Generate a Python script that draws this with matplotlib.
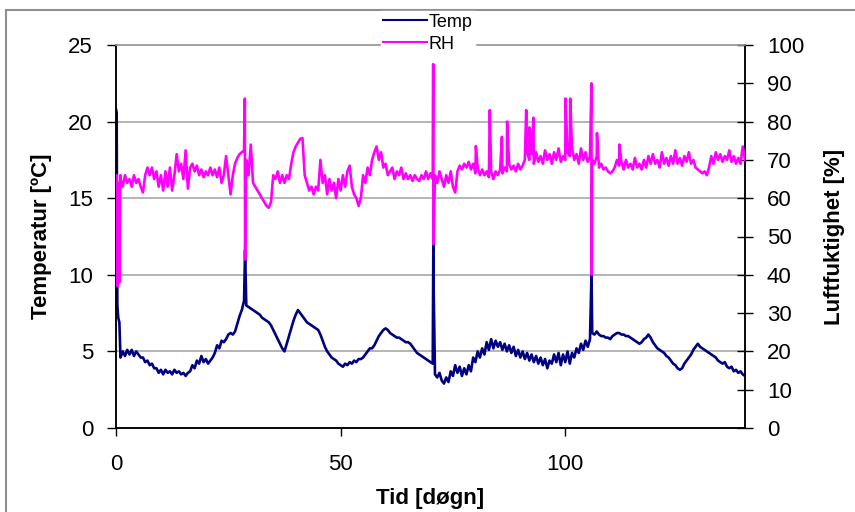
import numpy as np
import matplotlib
matplotlib.use("Agg")
import matplotlib.pyplot as plt
from matplotlib.lines import Line2D

plt.rcParams['font.family'] = ['Liberation Sans', 'DejaVu Sans']

# ---------------- data ----------------
# regular samples every half day from day 1.0 to day 140.0
base_days = np.arange(1.0, 140.01, 0.5)

temp_base = [
    4.6, 5.0, 4.7, 5.1, 4.8, 5.1, 4.7, 5.0, 4.8, 4.6, 4.6, 4.3, 4.4, 4.1, 4.2, 3.9, 3.9, 3.6, 3.8, 3.5,
    3.8, 3.6, 3.7, 3.5, 3.8, 3.6, 3.7, 3.5, 3.6, 3.4, 3.6, 3.7, 4.1, 3.9, 4.4, 4.2, 4.7, 4.3, 4.5, 4.2,
    4.4, 4.6, 4.9, 5.4, 5.2, 5.7, 5.6, 5.8, 6.1, 6.2, 6.1, 6.3, 6.8, 7.3, 7.7, 8.3, 8.0, 7.9, 7.8, 7.7,
    7.6, 7.5, 7.4, 7.2, 7.1, 7.0, 6.9, 6.7, 6.4, 6.1, 5.8, 5.5, 5.2, 5.0, 5.5, 6.0, 6.5, 7.0, 7.4, 7.7,
    7.5, 7.3, 7.1, 6.9, 6.8, 6.7, 6.6, 6.5, 6.4, 6.1, 5.7, 5.3, 5.0, 4.8, 4.6, 4.5, 4.4, 4.2, 4.1, 4.0,
    4.2, 4.1, 4.3, 4.2, 4.4, 4.3, 4.5, 4.5, 4.6, 4.8, 5.0, 5.2, 5.2, 5.4, 5.7, 6.0, 6.2, 6.4, 6.5, 6.4,
    6.2, 6.1, 6.0, 5.9, 5.9, 5.8, 5.7, 5.6, 5.6, 5.5, 5.3, 5.1, 4.9, 4.8, 4.7, 4.6, 4.5, 4.4, 4.3, 4.2,
    3.5, 3.3, 3.6, 3.1, 2.9, 3.3, 3.0, 3.7, 3.4, 4.1, 3.6, 4.0, 3.4, 3.9, 3.5, 4.1, 3.7, 4.6, 4.3, 5.0,
    4.6, 5.2, 4.8, 5.6, 5.1, 5.8, 5.2, 5.7, 5.3, 5.6, 5.1, 5.5, 5.0, 5.4, 4.9, 5.3, 4.7, 5.1, 4.6, 5.0,
    4.5, 4.9, 4.4, 4.8, 4.3, 4.7, 4.2, 4.6, 4.1, 4.5, 3.9, 4.4, 4.2, 4.8, 4.3, 4.9, 4.1, 4.8, 4.3, 5.0,
    4.2, 4.9, 4.6, 5.2, 4.9, 5.5, 5.1, 5.7, 5.3, 5.8, 6.2, 6.1, 6.3, 6.1, 6.0, 6.0, 5.9, 5.9, 5.8, 6.0,
    6.1, 6.2, 6.2, 6.1, 6.1, 6.0, 6.0, 5.9, 5.8, 5.7, 5.6, 5.5, 5.6, 5.8, 5.9, 6.1, 5.9, 5.6, 5.4, 5.2,
    5.1, 5.0, 4.9, 4.7, 4.6, 4.4, 4.2, 4.1, 3.9, 3.8, 3.9, 4.2, 4.4, 4.6, 4.8, 5.1, 5.3, 5.5, 5.3, 5.2,
    5.1, 5.0, 4.9, 4.8, 4.7, 4.6, 4.4, 4.3, 4.2, 4.3, 4.0, 3.9, 4.0, 3.7, 3.8, 3.6, 3.7, 3.5, 3.4,
]

rh_base = [
    65, 63, 66, 64, 65, 63, 66, 64, 65, 63, 61.5, 66, 68, 66, 68, 65, 67, 63, 66, 62,
    67, 63, 68, 62, 66, 71.5, 67, 69, 65, 72.5, 62.5, 68, 69, 67, 68.5, 66, 67.5, 65.5, 67, 66,
    68, 66, 67.5, 65.5, 68, 64, 66, 71, 66, 61, 66, 69, 70.5, 71.5, 72, 72.5, 70, 66, 74, 64,
    63, 62, 61, 60, 59, 58, 57.5, 59, 66, 65, 67, 64, 66, 64, 66, 65, 69, 72, 73.5, 74.5,
    75.5, 75.7, 66, 64, 62, 63, 61, 63, 62, 70, 64, 66, 61, 65, 62, 64, 60, 65, 62, 66,
    63, 67, 68.5, 63, 61, 60, 58, 60, 66, 64, 68, 66, 70, 72, 73.5, 70, 72, 68, 69, 66,
    67, 68, 65, 67, 66, 68, 65, 66.5, 65, 66, 64.5, 66, 65, 64.5, 66, 65, 67, 65, 66.5, 65,
    66, 64, 67, 65, 63, 66, 64, 67, 63, 61.5, 67, 68.5, 67.5, 69, 68, 69.5, 67.5, 69, 66.5, 68,
    66, 67.5, 66, 67, 65.5, 67, 65, 67, 66, 67.5, 66.5, 68, 67, 69, 67.5, 68.5, 67, 69, 67.5, 68.5,
    70, 72, 70, 71.5, 69, 72, 69.5, 71, 69, 72.5, 70, 71.5, 69, 72, 70, 73, 69.5, 71, 70, 72,
    71, 73, 70, 71.5, 69, 73, 70, 72, 69.5, 71, 70, 69, 71, 68, 69, 67.5, 68, 67, 66.5, 67,
    68, 70, 68.5, 69.5, 67.5, 70, 68, 69, 67.5, 70.5, 68, 69, 67.5, 70, 68, 71, 69, 71.5, 69, 70,
    68, 72, 69, 70.5, 68.5, 71, 69, 72.5, 69, 70.5, 68.5, 71, 69.5, 72, 69, 70, 68, 67.5, 67, 66.5,
    67, 66, 68, 71, 69, 72, 70, 71.5, 69.5, 71, 70, 72.5, 69.5, 71, 69, 70.5, 69, 73.5, 70,
]

# start-up transient and short spikes (single readings)
temp_extra_days = [0.0, 0.15, 0.3, 0.5, 0.75, 28.73, 70.63, 70.68, 105.83]
temp_extra_vals = [20.8, 20.6, 8.0, 7.2, 6.9, 11.6, 12.1, 9.5, 10.0]

rh_extra_days = [0.0, 0.15, 0.35, 0.55, 0.75, 0.95, 28.68, 28.73, 70.6, 70.65,
                 80.1, 83.2, 85.9, 87.05, 91.3, 92.05, 92.9, 100.05, 101.1,
                 105.82, 105.87, 107.05, 112.05]
rh_extra_vals = [42, 66, 37, 64, 38, 66, 86, 44, 95, 48,
                 73.6, 83, 76, 80, 83, 78.5, 81, 86, 86,
                 90, 40, 77, 74]


def merge(bd, bv, ed, ev):
    d = np.concatenate([bd, np.asarray(ed, float)])
    v = np.concatenate([np.asarray(bv, float), np.asarray(ev, float)])
    o = np.argsort(d, kind="stable")
    return d[o], v[o]


t_days, t_vals = merge(base_days, temp_base, temp_extra_days, temp_extra_vals)
r_days, r_vals = merge(base_days, rh_base, rh_extra_days, rh_extra_vals)

x_ticks = [0, 50, 100]
temp_ticks = [0, 5, 10, 15, 20, 25]
rh_ticks = [0, 10, 20, 30, 40, 50, 60, 70, 80, 90, 100]

# ---------------- figure ----------------
W, H = 855, 512
fig = plt.figure(figsize=(W / 100, H / 100), dpi=100)
fig.patch.set_facecolor("white")

L, R, T, B = 116, 745, 45, 428
ax = fig.add_axes([L / W, 1 - B / H, (R - L) / W, (B - T) / H])
ax2 = ax.twinx()

navy = "#000080"
mag = "#FF00FF"
ln1, = ax.plot(t_days, t_vals, color=navy, lw=1.9, label="Temp", zorder=3)
ln2, = ax2.plot(r_days, r_vals, color=mag, lw=1.9, label="RH", zorder=3)

ax.set_xlim(0, 140)
ax.set_ylim(0, 25)
ax2.set_ylim(0, 100)
ax.set_xticks(x_ticks)
ax.set_yticks(temp_ticks)
ax2.set_yticks(rh_ticks)

ax.yaxis.grid(True, color="#a0a0a0", lw=1.1)
ax.set_axisbelow(True)

for a in (ax, ax2):
    a.spines["top"].set_color("#a0a0a0")
    a.spines["top"].set_linewidth(1.1)
    for s in ("left", "right", "bottom"):
        a.spines[s].set_color("black")
        a.spines[s].set_linewidth(1.1)

fs = 16
ax.tick_params(axis="x", direction="out", length=6, width=1, pad=13, labelsize=fs)
ax.tick_params(axis="y", direction="out", length=6.5, width=1, pad=10, labelsize=fs)
ax2.tick_params(axis="y", direction="inout", length=11.5, width=1, pad=10, labelsize=fs)

ax.set_xlabel("Tid [døgn]", fontsize=16, fontweight="bold", labelpad=9)
ax.set_ylabel("Temperatur [ºC]", fontsize=16, fontweight="bold", labelpad=12)
ax2.set_ylabel("Luftfuktighet [%]", fontsize=16, fontweight="bold", labelpad=14)

leg = fig.legend(handles=[ln1, ln2], loc="upper center",
                 bbox_to_anchor=(428 / W, 1 - 11 / H), fontsize=13,
                 frameon=True, fancybox=False, framealpha=1,
                 handlelength=2.4, handletextpad=0.1, labelspacing=0.28,
                 borderpad=0.15, borderaxespad=0)
leg.get_frame().set_edgecolor("white")
leg.get_frame().set_facecolor("white")
leg.set_zorder(10)
for h in leg.legend_handles:
    h.set_linewidth(1.5)

# outer chart-area border (partly cropped in the original)
fig.add_artist(Line2D([5.5 / W, 5.5 / W], [0, 1 - 10 / H], color="#909090", lw=1.5,
                      transform=fig.transFigure))
fig.add_artist(Line2D([5.5 / W, 1], [1 - 10 / H, 1 - 10 / H], color="#909090", lw=1.5,
                      transform=fig.transFigure))

fig.savefig("out.png", dpi=100, facecolor="white")
